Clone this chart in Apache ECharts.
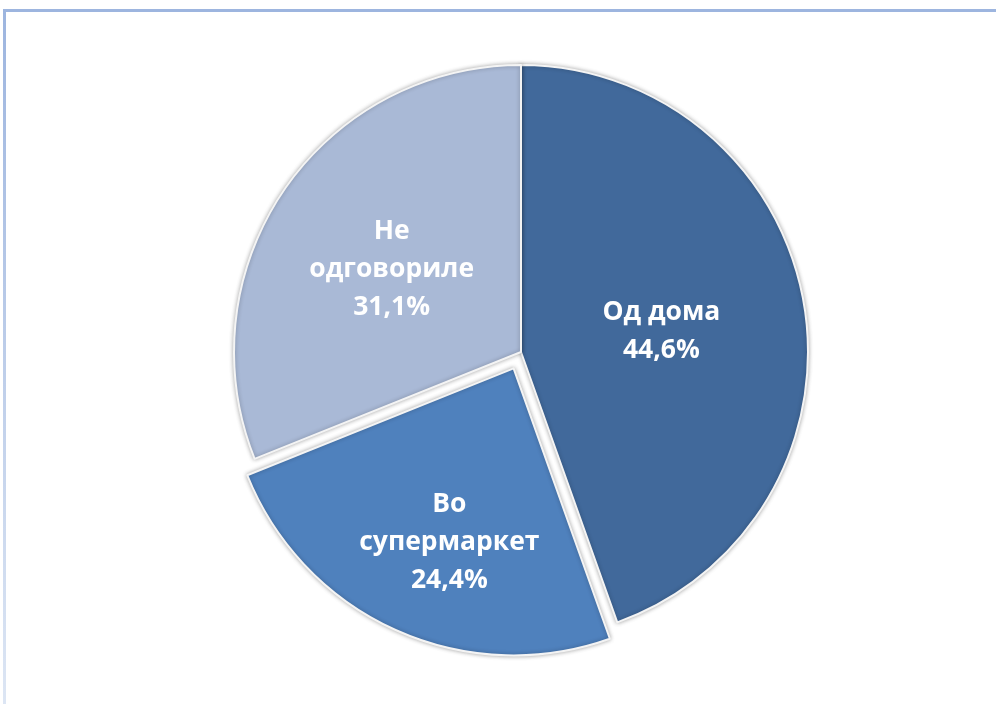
<!DOCTYPE html>
<html>
<head>
<meta charset="utf-8">
<script src="https://cdn.jsdelivr.net/npm/echarts@6/dist/echarts.min.js"></script>
<style>
  html, body { margin: 0; padding: 0; background: #fff; }
  #chart { width: 996px; height: 704px; }
</style>
</head>
<body>
<div id="chart"></div>
<script>
// Answers: where the purchase was made
const categories = ['Од дома', 'Во супермаркет', 'Не одговориле'];
const values = [44.6, 24.4, 31.1];
const colors = ['#41699B', '#4F81BD', '#A9B9D6'];
const explodedIndex = 1;

// Fine placement of each slice label (dx, dy) in pixels
const labelShift = [[-4, 4], [-4, 40], [-8, 0]];

const chart = echarts.init(document.getElementById('chart'), null, { renderer: 'canvas' });

const data = categories.map((name, i) => ({
  name: name,
  value: values[i],
  selected: i === explodedIndex,
  itemStyle: { color: colors[i] },
  select: { itemStyle: { color: colors[i] } }
}));

chart.setOption({
  animation: false,
  backgroundColor: '#ffffff',
  graphic: [
    {
      type: 'rect',
      shape: { x: 4, y: 9, width: 1000, height: 3 },
      style: { fill: '#9DB5DF' },
      silent: true
    },
    {
      type: 'rect',
      shape: { x: 3, y: 9, width: 3, height: 700 },
      style: {
        fill: new echarts.graphic.LinearGradient(0, 0, 0, 1, [
          { offset: 0, color: '#9DB5DF' },
          { offset: 1, color: '#DDE6F4' }
        ])
      },
      silent: true
    }
  ],
  series: [{
    type: 'pie',
    center: [521, 352],
    radius: 287,
    startAngle: 90,
    clockwise: true,
    selectedMode: 'single',
    selectedOffset: 18,
    data: data,
    itemStyle: {
      borderColor: '#f4f4f4',
      borderWidth: 2,
      shadowBlur: 4,
      shadowColor: 'rgba(0,0,0,0.3)'
    },
    emphasis: { disabled: true },
    label: {
      show: true,
      position: 'inside',
      color: '#ffffff',
      fontFamily: 'Open Sans',
      fontWeight: 'bold',
      fontSize: 26.5,
      lineHeight: 38,
      formatter: function (p) {
        const name = p.name === 'Од дома' ? p.name : p.name.replace(' ', '\n');
        return name + '\n' + p.value.toFixed(1).replace('.', ',') + '%';
      }
    },
    labelLine: { show: false },
    labelLayout: function (params) {
      const s = labelShift[params.dataIndex];
      return { dx: s[0], dy: s[1] };
    }
  }]
});
</script>
</body>
</html>
